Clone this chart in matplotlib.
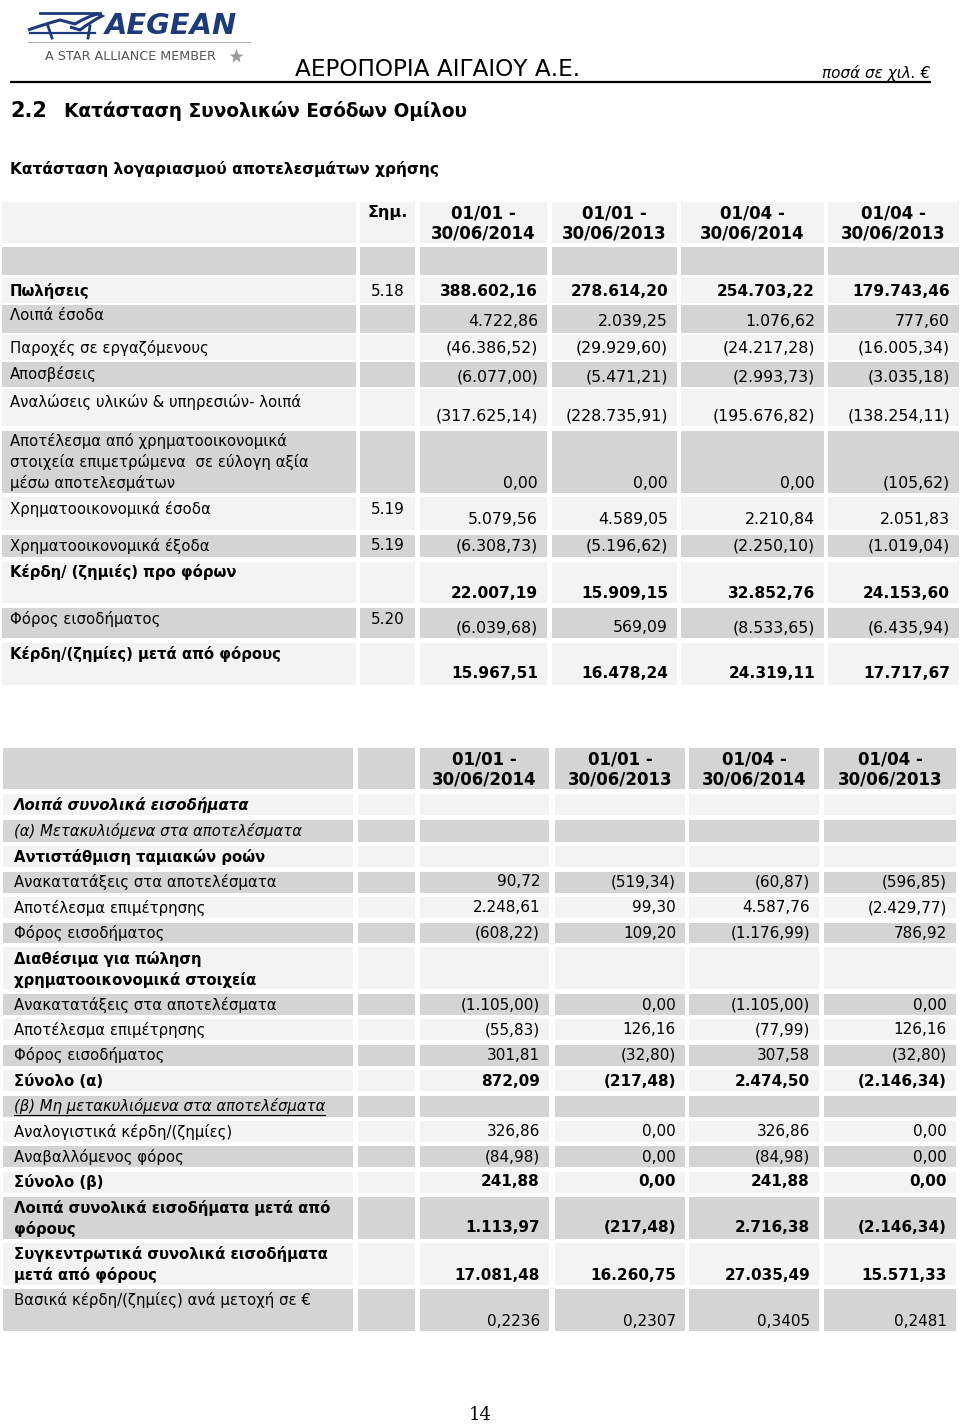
import matplotlib
matplotlib.use("Agg")
import matplotlib.pyplot as plt
from matplotlib.patches import Rectangle, PathPatch
from matplotlib.path import Path

# ---------------- data ----------------
periods = ["01/01 -\n30/06/2014", "01/01 -\n30/06/2013", "01/04 -\n30/06/2014", "01/04 -\n30/06/2013"]

labels1 = ["Πωλήσεις", "Λοιπά έσοδα", "Παροχές σε εργαζόμενους", "Αποσβέσεις",
           "Αναλώσεις υλικών & υπηρεσιών- λοιπά",
           "Αποτέλεσμα από χρηματοοικονομικά\nστοιχεία επιμετρώμενα  σε εύλογη αξία\nμέσω αποτελεσμάτων",
           "Χρηματοοικονομικά έσοδα", "Χρηματοοικονομικά έξοδα", "Κέρδη/ (ζημιές) προ φόρων",
           "Φόρος εισοδήματος", "Κέρδη/(ζημίες) μετά από φόρους"]
notes1 = ["5.18", "", "", "", "", "", "5.19", "5.19", "", "5.20", ""]
h1_2014 = [388602.16, 4722.86, -46386.52, -6077.00, -317625.14, 0.00, 5079.56, -6308.73, 22007.19, -6039.68, 15967.51]
h1_2013 = [278614.20, 2039.25, -29929.60, -5471.21, -228735.91, 0.00, 4589.05, -5196.62, 15909.15, 569.09, 16478.24]
q2_2014 = [254703.22, 1076.62, -24217.28, -2993.73, -195676.82, 0.00, 2210.84, -2250.10, 32852.76, -8533.65, 24319.11]
q2_2013 = [179743.46, 777.60, -16005.34, -3035.18, -138254.11, -105.62, 2051.83, -1019.04, 24153.60, -6435.94, 17717.67]
bold1 = [0, 8, 10]

labels2 = ["Λοιπά συνολικά εισοδήματα", "(α) Μετακυλιόμενα στα αποτελέσματα", "Αντιστάθμιση ταμιακών ροών",
           "Ανακατατάξεις στα αποτελέσματα", "Αποτέλεσμα επιμέτρησης", "Φόρος εισοδήματος",
           "Διαθέσιμα για πώληση\nχρηματοοικονομικά στοιχεία", "Ανακατατάξεις στα αποτελέσματα",
           "Αποτέλεσμα επιμέτρησης", "Φόρος εισοδήματος", "Σύνολο (α)",
           "(β) Μη μετακυλιόμενα στα αποτελέσματα", "Αναλογιστικά κέρδη/(ζημίες)", "Αναβαλλόμενος φόρος",
           "Σύνολο (β)", "Λοιπά συνολικά εισοδήματα μετά από\nφόρους",
           "Συγκεντρωτικά συνολικά εισοδήματα\nμετά από φόρους", "Βασικά κέρδη/(ζημίες) ανά μετοχή σε €"]
oci_h1_2014 = [None, None, None, 90.72, 2248.61, -608.22, None, -1105.00, -55.83, 301.81, 872.09, None, 326.86, -84.98, 241.88, 1113.97, 17081.48, 0.2236]
oci_h1_2013 = [None, None, None, -519.34, 99.30, 109.20, None, 0.00, 126.16, -32.80, -217.48, None, 0.00, 0.00, 0.00, -217.48, 16260.75, 0.2307]
oci_q2_2014 = [None, None, None, -60.87, 4587.76, -1176.99, None, -1105.00, -77.99, 307.58, 2474.50, None, 326.86, -84.98, 241.88, 2716.38, 27035.49, 0.3405]
oci_q2_2013 = [None, None, None, -596.85, -2429.77, 786.92, None, 0.00, 126.16, -32.80, -2146.34, None, 0.00, 0.00, 0.00, -2146.34, 15571.33, 0.2481]
bold2 = [2, 6, 10, 14, 15, 16]
bold_vals2 = [10, 14, 15, 16]

# ---------------- helpers ----------------
def fmt(v, dec=2):
    if v is None:
        return ""
    s = f"{abs(v):,.{dec}f}".replace(",", "X").replace(".", ",").replace("X", ".")
    return f"({s})" if v < 0 else s

LIGHT = "#f3f3f3"
GRAY = "#d4d4d4"
FONT = "DejaVu Sans"

fig = plt.figure(figsize=(9.6, 14.24), dpi=100)
ax = fig.add_axes([0, 0, 1, 1])
ax.set_xlim(0, 960)
ax.set_ylim(1424, 0)
ax.axis("off")
renderer = fig.canvas.get_renderer()


def fit(t, width):
    bb = t.get_window_extent(renderer)
    t.set_fontsize(t.get_fontsize() * width / bb.width)


def cell(x0, x1, y0, y1, color):
    ax.add_patch(Rectangle((x0, y0), x1 - x0, y1 - y0, facecolor=color, edgecolor="none", zorder=0))

# ---------------- header / logo ----------------
navy = "#1d3b7a"
bird = Path([(28, 30), (45, 24), (60, 20), (75, 24), (88, 16), (98, 14), (102, 16),
             (90, 22), (80, 30), (70, 27)],
            [Path.MOVETO, Path.CURVE3, Path.CURVE3, Path.LINETO, Path.CURVE3, Path.CURVE3, Path.LINETO,
             Path.CURVE3, Path.CURVE3, Path.LINETO])
ax.add_patch(PathPatch(bird, facecolor="none", edgecolor=navy, lw=2.2))
ax.plot([40, 100], [13, 13], color=navy, lw=2)
ax.plot([30, 95], [33, 33], color=navy, lw=1.6)
ax.plot([48, 52], [26, 38], color=navy, lw=2)
ax.plot([90, 88], [26, 38], color=navy, lw=2)
t = ax.text(105, 26, "AEGEAN", fontsize=22, fontweight="bold", fontstyle="italic", color=navy,
            ha="left", va="center", family=FONT)
fit(t, 132)
ax.plot([28, 250], [42, 42], color="#b0b0b0", lw=0.8)
t = ax.text(45, 56, "A STAR ALLIANCE MEMBER", fontsize=7, color="#555555", ha="left", va="center", family=FONT)
fit(t, 172)
ax.plot([236], [56], marker="*", ms=11, color="#9a9a9a", mec="none")

t = ax.text(295, 70, "ΑΕΡΟΠΟΡΙΑ ΑΙΓΑΙΟΥ Α.Ε.", fontsize=17, color="black", ha="left", va="center", family=FONT)
fit(t, 288)
t = ax.text(822, 73, "ποσά σε χιλ. €", fontsize=11, fontstyle="italic", ha="left", va="center", family=FONT)
fit(t, 108)
ax.plot([10, 931], [82, 82], color="black", lw=1.6, solid_capstyle="butt")

t = ax.text(10, 111, "2.2", fontsize=15, fontweight="bold", ha="left", va="center", family=FONT)
t = ax.text(64, 111, "Κατάσταση Συνολικών Εσόδων Ομίλου", fontsize=14, fontweight="bold",
            ha="left", va="center", family=FONT)
fit(t, 406)
t = ax.text(10, 169, "Κατάσταση λογαριασμού αποτελεσμάτων χρήσης", fontsize=11, fontweight="bold",
            ha="left", va="center", family=FONT)
fit(t, 427)

# ---------------- table 1 ----------------
cols1 = [(2, 356), (360, 415), (420, 547), (552, 677), (681, 824), (828, 959)]
rows1 = [(278, 303, 291, 291), (305, 333, 316, 322), (335, 360, 348, 348), (362, 387, 374, 377),
         (389, 426, 402, 416), (431, 493, 441, 483), (497, 530, 509, 520), (535, 557, 546, 546),
         (562, 603, 572, 593), (608, 638, 619, 628), (643, 685, 654, 674)]
LBL = 10.7
NUM = 11.3

for (x0, x1) in cols1:
    cell(x0, x1, 202, 243, LIGHT)
    cell(x0, x1, 247, 275, GRAY)
ax.text(388, 213, "Σημ.", fontsize=11.5, fontweight="bold", ha="center", va="center", family=FONT)
for (x0, x1), p in zip(cols1[2:], periods):
    l1, l2 = p.split("\n")
    ax.text((x0 + x1) / 2, 213, l1, fontsize=12, fontweight="bold", ha="center", va="center", family=FONT)
    ax.text((x0 + x1) / 2, 234, l2, fontsize=12, fontweight="bold", ha="center", va="center", family=FONT)

series1 = [h1_2014, h1_2013, q2_2014, q2_2013]
for i, (y0, y1, ly, vy) in enumerate(rows1):
    color = LIGHT if i % 2 == 0 else GRAY
    for (x0, x1) in cols1:
        cell(x0, x1, y0, y1, color)
    w = "bold" if i in bold1 else "normal"
    for k, line in enumerate(labels1[i].split("\n")):
        ax.text(10, ly + 21 * k, line, fontsize=LBL, fontweight=w, ha="left", va="center", family=FONT)
    if notes1[i]:
        ax.text(388, ly, notes1[i], fontsize=11, ha="center", va="center", family=FONT)
    for (x0, x1), s in zip(cols1[2:], series1):
        ax.text(x1 - 9, vy, fmt(s[i]), fontsize=(11.1 if w == "bold" else NUM), fontweight=w,
                ha="right", va="center", family=FONT)

# ---------------- table 2 ----------------
cols2 = [(3, 353), (358, 415), (420, 549), (555, 685), (689, 819), (824, 956)]
rows2 = [(794, 815, 805, 805), (820, 842, 831, 831), (846, 867, 857, 857), (872, 893, 882, 882),
         (897, 918, 908, 908), (923, 943, 933, 933), (947, 989, 959, 980), (994, 1015, 1005, 1005),
         (1019, 1040, 1030, 1030), (1045, 1066, 1055, 1055), (1070, 1091, 1081, 1081),
         (1096, 1117, 1106, 1106), (1121, 1142, 1132, 1132), (1146, 1167, 1157, 1157),
         (1172, 1193, 1182, 1182), (1197, 1239, 1208, 1228), (1243, 1285, 1254, 1275),
         (1289, 1331, 1300, 1321)]
NUM2 = 11.0

for (x0, x1) in cols2:
    cell(x0, x1, 748, 789, GRAY)
for (x0, x1), p in zip(cols2[2:], periods):
    l1, l2 = p.split("\n")
    ax.text((x0 + x1) / 2, 759, l1, fontsize=12, fontweight="bold", ha="center", va="center", family=FONT)
    ax.text((x0 + x1) / 2, 780, l2, fontsize=12, fontweight="bold", ha="center", va="center", family=FONT)

series2 = [oci_h1_2014, oci_h1_2013, oci_q2_2014, oci_q2_2013]
for i, (y0, y1, ly, vy) in enumerate(rows2):
    color = LIGHT if i % 2 == 0 else GRAY
    for (x0, x1) in cols2:
        cell(x0, x1, y0, y1, color)
    w = "bold" if (i in bold2 or i == 0) else "normal"
    st = "italic" if i in (0, 1, 11) else "normal"
    for k, line in enumerate(labels2[i].split("\n")):
        t = ax.text(14, ly + 21 * k, line, fontsize=LBL, fontweight=w, fontstyle=st,
                    ha="left", va="center", family=FONT)
        if i == 11:
            bb = t.get_window_extent(renderer)
            ax.plot([14, 14 + bb.width], [ly + 9, ly + 9], color="black", lw=0.8)
    vw = "bold" if i in bold_vals2 else "normal"
    dec = 4 if i == len(rows2) - 1 else 2
    for (x0, x1), s in zip(cols2[2:], series2):
        ax.text(x1 - 9, vy, fmt(s[i], dec), fontsize=NUM2, fontweight=vw, ha="right", va="center", family=FONT)

# page number
ax.text(480, 1415, "14", fontsize=13, ha="center", va="center", family="DejaVu Serif")

fig.savefig("out.png", dpi=100)
